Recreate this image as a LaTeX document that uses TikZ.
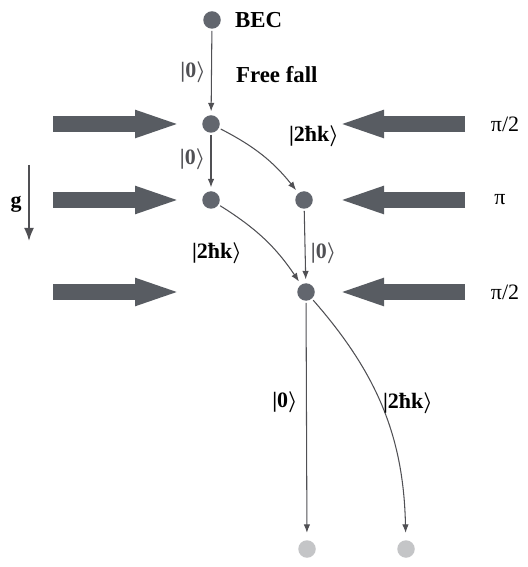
\documentclass[tikz,border=0pt]{standalone}
\usepackage{amsmath,amssymb,bm}
\usepackage{fontspec}
\setmainfont{Liberation Serif}
\usepackage{tikz}
\usetikzlibrary{arrows.meta,positioning}
\definecolor{atom}{RGB}{98,102,110}
\definecolor{atompale}{RGB}{196,197,199}
\definecolor{beam}{RGB}{88,92,98}
\definecolor{path}{RGB}{80,80,84}
\newcommand{\kzero}{\textbf{|0}\(\boldsymbol{\rangle}\)}
\newcommand{\ktwo}{\textbf{|2ħk}\(\boldsymbol{\rangle}\)}

\begin{document}
\begin{tikzpicture}[x=0.2mm,y=-0.2mm,>={Latex[length=1.7mm,width=1.3mm]},
  every node/.style={font=\fontsize{12.5}{14}\selectfont,align=center,inner sep=1pt},
  atomdot/.style={circle,fill=atom,inner sep=0pt,minimum size=3.5mm},
  outdot/.style={circle,fill=atompale,inner sep=0pt,minimum size=3.5mm},
  laser/.style={beam,line width=3.2mm,-{Triangle[length=9.6mm,width=4.8mm]}},
  split/.style={->,path,line width=0.6pt,shorten >=2pt,shorten <=1pt}]
  \useasboundingbox (0,0) rectangle (527,567);
  % atom clouds
  \node[atomdot] (bec) at (212,20) {};
  \node[font=\fontsize{13}{15}\selectfont\bfseries,anchor=west] (becl) at (233,20) {BEC};
  \node[atomdot] (a1) at (211,124) {};
  \node[atomdot] (a2) at (211,200) {};
  \node[atomdot] (b2) at (304,200) {};
  \node[atomdot] (c3) at (306,292) {};
  \node[outdot] (d1) at (307,549) {};
  \node[outdot] (d2) at (406,549) {};
  % laser pulses
  \foreach \row/\yy/\phase/\xx in {1/124/{π/2}/505,2/200/{π}/500,3/292/{π/2}/505}{
    \coordinate (ls\row) at (53,\yy);
    \coordinate (le\row) at (183,\yy);
    \coordinate (rs\row) at (465,\yy);
    \coordinate (re\row) at (336,\yy);
    \draw[laser] (ls\row) -- (le\row);
    \draw[laser] (rs\row) -- (re\row);
    \node (ph\row) at (\xx,\yy) {\phase};
  }
  % gravity
  \coordinate (gtop) at (29,165);
  \coordinate (gbot) at (29,241);
  \draw[path,line width=1pt,-{Latex[length=2.6mm,width=2mm]}] (gtop) -- (gbot);
  \node[font=\fontsize{12.5}{14}\selectfont\bfseries] (gl) at (16,204) {g};
  % trajectories
  \draw[split] (bec) -- node[left,xshift=-2pt]{\kzero} (a1);
  \node[font=\fontsize{13}{15}\selectfont\bfseries,anchor=west] (ff) at (234,75) {Free fall};
  \draw[split] (a1) -- node[left,xshift=-2pt,pos=0.45]{\kzero} (a2);
  \draw[split,bend left=12] (a1) to (b2);
  \node (k1) at (314,136) {\ktwo};
  \draw[split] (b2) -- node[right,xshift=2pt,pos=0.6]{\kzero} (c3);
  \draw[split,bend left=12] (a2) to (c3);
  \node (k2) at (217,253) {\ktwo};
  \draw[split,shorten >=4pt] (c3) -- (d1);
  \node (k3) at (285,402) {\kzero};
  \draw[split,bend left=20,shorten >=4pt] (c3) to (d2);
  \node[anchor=west] (k4) at (381,403) {\ktwo};
\end{tikzpicture}
\end{document}
